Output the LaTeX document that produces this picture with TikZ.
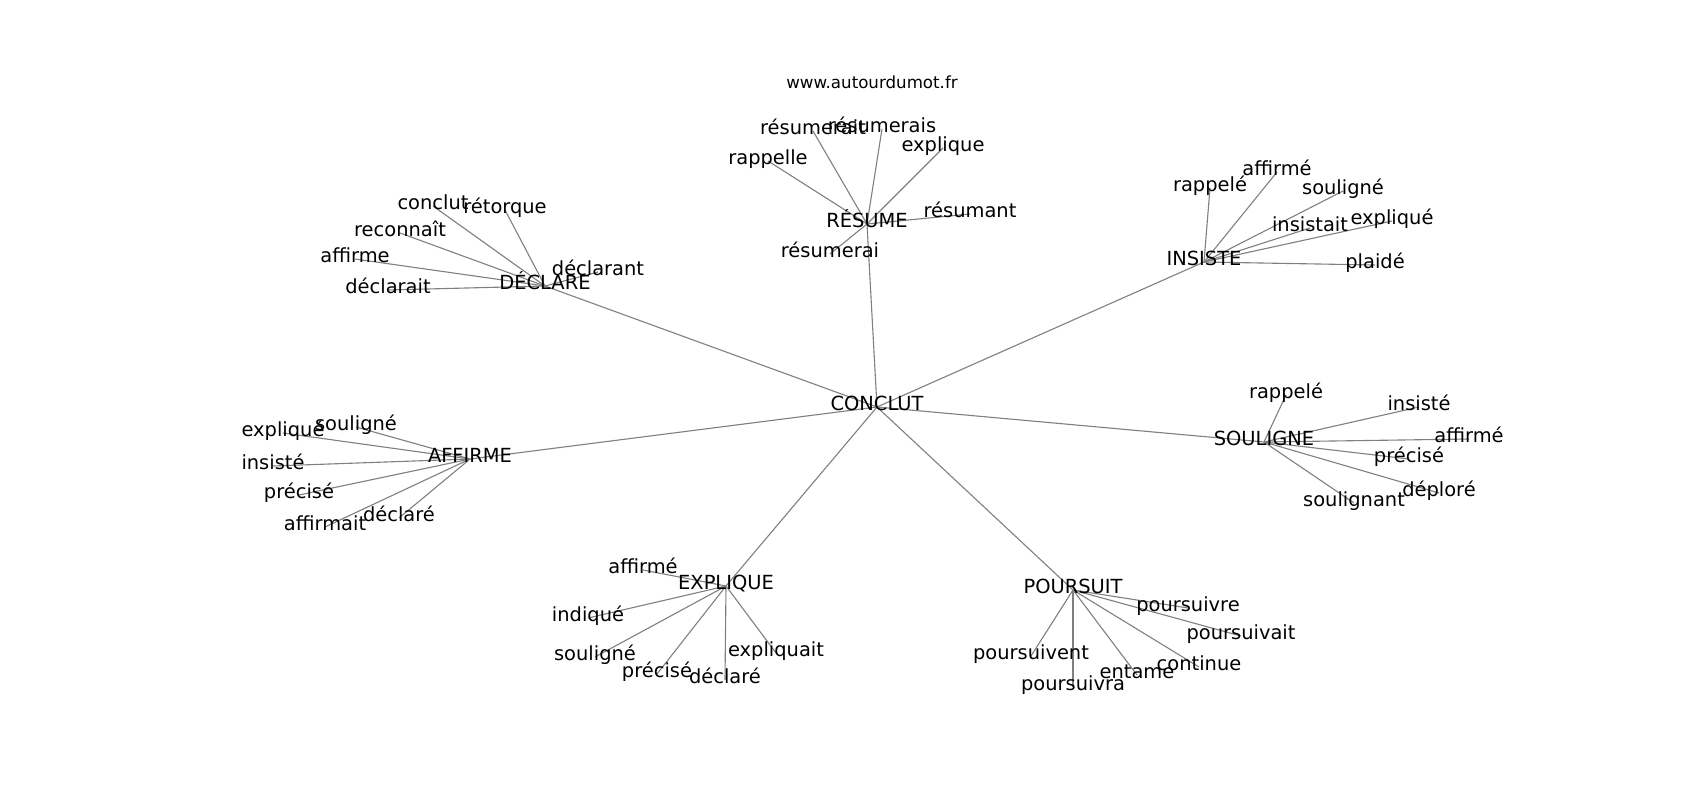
\documentclass[tikz,border=0pt]{standalone}
\usepackage{fontspec}
\setmainfont{DejaVu Sans}
\begin{document}
\begin{tikzpicture}[x=0.72pt,y=-0.72pt,
    word/.style={inner sep=0pt, font=\fontsize{14}{16}\selectfont, text height=0.75em, text depth=0.25em},
    link/.style={gray, line width=0.8pt}]
              \pgfdeclarelayer{bg}    % declare background layer for the links
              \pgfsetlayers{bg,main}  % links below the words
              \useasboundingbox (0,-4) rectangle (1700,796);
              \node[font=\fontsize{12}{14}\selectfont] (site) at (872,78) {www.autourdumot.fr};
              % centre word and the seven hubs
              \node[word] (conclut) at (877,403) {CONCLUT};
              \foreach \N/\X/\Y/\T in {declare/545/282/DÉCLARE, resume/867/220/RÉSUME, insiste/1204/258/INSISTE, affirme/470/455/AFFIRME, souligne/1264/438/SOULIGNE, explique/726/582/EXPLIQUE, poursuit/1073/586/POURSUIT}
                  {
                  \node[word] (\N) at (\X,\Y) {\T};
                  \begin{pgfonlayer}{bg}
                      \draw[link] (conclut.center) -- (\N.center);
                  \end{pgfonlayer}
                  }
              % leaves round each hub
              \foreach \H/\N/\X/\Y/\T in {declare/d1/433/202/conclut, declare/d2/505/206/rétorque, declare/d3/400/229/reconnaît, declare/d4/355/255/affirme, declare/d5/388/286/déclarait, declare/d6/598/268/déclarant,
                  resume/r1/768/157/rappelle, resume/r2/813/127/résumerait, resume/r3/882/125/résumerais, resume/r4/943/144/explique, resume/r5/970/210/résumant, resume/r6/830/250/résumerai,
                  insiste/i1/1210/184/rappelé, insiste/i2/1277/168/affirmé, insiste/i3/1343/187/souligné, insiste/i4/1310/224/insistait, insiste/i5/1392/217/expliqué, insiste/i6/1375/261/plaidé,
                  affirme/a1/283/429/expliqué, affirme/a2/356/423/souligné, affirme/a3/273/462/insisté, affirme/a4/299/491/précisé, affirme/a5/325/523/affirmait, affirme/a6/399/514/déclaré,
                  souligne/s1/1286/391/rappelé, souligne/s2/1419/403/insisté, souligne/s3/1469/435/affirmé, souligne/s4/1409/455/précisé, souligne/s5/1439/489/déploré, souligne/s6/1354/499/soulignant,
                  explique/e1/643/566/affirmé, explique/e2/588/614/indiqué, explique/e3/595/653/souligné, explique/e4/657/670/précisé, explique/e5/725/676/déclaré, explique/e6/776/649/expliquait,
                  poursuit/p1/1188/604/poursuivre, poursuit/p2/1241/632/poursuivait, poursuit/p3/1031/652/poursuivent, poursuit/p4/1073/683/poursuivra, poursuit/p5/1137/671/entame, poursuit/p6/1199/663/continue}
                  {
                  \node[word] (\N) at (\X,\Y) {\T};
                  \begin{pgfonlayer}{bg}
                      \draw[link] (\H.center) -- (\N.center);
                  \end{pgfonlayer}
                  }
          \end{tikzpicture}
\end{document}
